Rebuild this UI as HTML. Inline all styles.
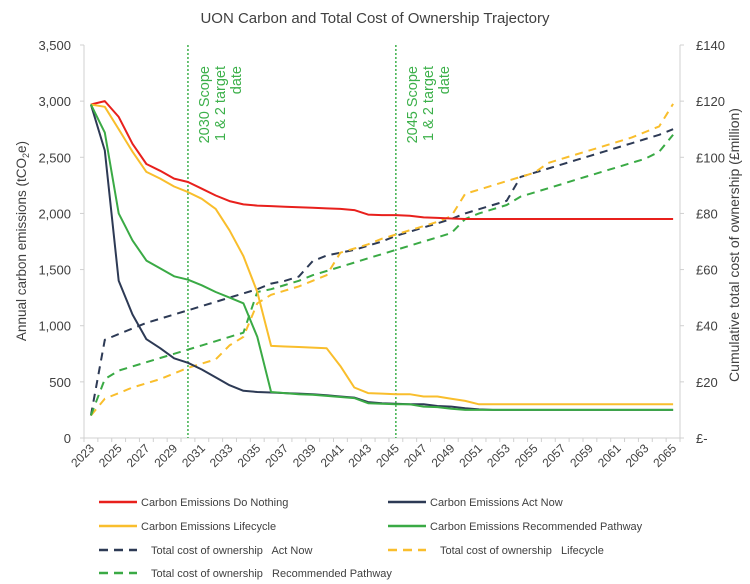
<!DOCTYPE html>
<html><head><meta charset="utf-8"><style>
body{margin:0;background:#fff;}
svg{display:block;font-family:"Liberation Sans",sans-serif;}
</style></head><body>
<svg id="chart" width="750" height="584" viewBox="0 0 750 584">
<text x="375" y="23" text-anchor="middle" font-size="15" fill="#404040">UON Carbon and Total Cost of Ownership Trajectory</text>
<text transform="translate(26,241) rotate(-90)" text-anchor="middle" font-size="13.5" fill="#404040">Annual carbon emissions (tCO<tspan font-size="9" dy="3">2</tspan><tspan dy="-3">e)</tspan></text>
<text transform="translate(739,245) rotate(-90)" text-anchor="middle" font-size="14" fill="#404040">Cumulative total cost of ownership (£million)</text>
<g id="axes"></g>
<g id="marks"></g>
<g id="legend"></g>
</svg>
<script>
const years=[];for(let y=2023;y<=2065;y++)years.push(y);
const leftTicks=[0,500,1000,1500,2000,2500,3000,3500];
const leftTickLabels=["0","500","1,000","1,500","2,000","2,500","3,000","3,500"];
const rightTicks=[0,20,40,60,80,100,120,140];
const rightTickLabels=["£-","£20","£40","£60","£80","£100","£120","£140"];
const doNothing=[2970,3000,2860,2620,2440,2380,2310,2280,2220,2160,2110,2080,2070,2065,2060,2055,2050,2045,2040,2030,1990,1985,1985,1980,1965,1960,1955,1950,1950,1950,1950,1950,1950,1950,1950,1950,1950,1950,1950,1950,1950,1950,1950];
const lifecycle=[2970,2950,2750,2550,2370,2310,2240,2190,2130,2040,1850,1620,1300,820,815,810,805,800,640,450,400,395,390,390,370,370,350,330,300,300,300,300,300,300,300,300,300,300,300,300,300,300,300];
const actNow=[2970,2560,1400,1100,880,800,710,670,610,540,470,420,410,405,400,395,390,380,370,360,320,310,305,300,300,285,280,265,255,250,250,250,250,250,250,250,250,250,250,250,250,250,250];
const recommended=[2970,2720,2000,1760,1580,1510,1440,1410,1360,1300,1250,1200,900,410,400,390,385,375,365,355,310,305,300,300,280,275,260,250,250,250,250,250,250,250,250,250,250,250,250,250,250,250,250];
const costActNow=[8,35,37,39,41,42.5,44,45.5,47,48.5,50,51.5,53,55,56,57.5,63,65,66,67,68.5,70,72,73.5,75,76.5,78,80,81.5,83,84.5,93,94.5,96,97.5,99,100.5,102,103.5,105,106.5,108,110];
const costLifecycle=[8,14,16,18,19.5,21,23,25,26.5,28,33,36,48,51,52.5,54,56,58,66,67.5,69,71,72.5,74,75.5,77,79,87,88.5,90,91.5,93,94.5,98,99.5,101,102.5,104,105.5,107,109,111,119];
const costRecommended=[8,21,24,25.5,27,28.5,30,31.5,33,34.5,36,37.5,52,53,54.5,56,58,59.5,61,62.5,64,65.5,67,68.5,70,71.5,73,78,80,81.5,83,86,87.5,89,90.5,92,93.5,95,96.5,98,99.5,102,108];
const targets=[2030,2045];

const NS="http://www.w3.org/2000/svg";
const X0=84,X1=680,YT=45,YB=438;
const band=(X1-X0)/years.length;
function xs(i){return X0+band*(i+0.5);}
function yL(v){return YB-(v/3500)*(YB-YT);}
function yR(v){return YB-(v/140)*(YB-YT);}
function mk(tag,attrs,parent,text){const e=document.createElementNS(NS,tag);for(const k in attrs)e.setAttribute(k,attrs[k]);if(text!==undefined)e.textContent=text;parent.appendChild(e);return e;}
const axes=document.getElementById('axes'),marks=document.getElementById('marks'),legend=document.getElementById('legend');

let a=mk('line',{x1:X0,y1:YT,x2:X0,y2:YB,stroke:'#d0d0d0','stroke-width':1},axes);

a=mk('line',{x1:X1,y1:YT,x2:X1,y2:YB,stroke:'#d0d0d0','stroke-width':1},axes);

a=mk('line',{x1:X0,y1:YB,x2:X1,y2:YB,stroke:'#d0d0d0','stroke-width':1},axes);

leftTicks.forEach((v,i)=>{
 mk('line',{x1:X0-4,x2:X0,y1:yL(v),y2:yL(v),stroke:'#d0d0d0'},axes);
 const t=mk('text',{x:X0-13,y:yL(v)+5,'text-anchor':'end','font-size':13,fill:'#404040'},axes,leftTickLabels[i]);
 
});
rightTicks.forEach((v,i)=>{
 mk('line',{x1:X1,x2:X1+4,y1:yR(v),y2:yR(v),stroke:'#d0d0d0'},axes);
 const t=mk('text',{x:X1+16,y:yR(v)+5,'text-anchor':'start','font-size':13,fill:'#404040'},axes,rightTickLabels[i]);
 
});
for(let i=0;i<=years.length;i++)mk('line',{x1:X0+band*i,x2:X0+band*i,y1:YB,y2:YB+4,stroke:'#d0d0d0'},axes);
years.forEach((y,i)=>{
 if(i%2)return;
 const x=xs(i)+4,yy=YB+11;
 const t=mk('text',{x:x,y:yy,'text-anchor':'end','font-size':12,fill:'#404040',transform:`rotate(-45 ${x} ${yy})`},axes,String(y));
 
});
targets.forEach(ty=>{
 const i=years.indexOf(ty),x=xs(i);
 const l=mk('line',{x1:x,x2:x,y1:YT,y2:YB,stroke:'#3cb04a','stroke-width':1.5,'stroke-dasharray':'2,2'},marks);
 
 const g=mk('text',{transform:`translate(${x+21},66) rotate(-90)`,'text-anchor':'end','font-size':14.5,fill:'#3cb04a'},marks);
 
 mk('tspan',{x:0,dy:0},g,ty+' Scope');mk('tspan',{x:0,dy:16},g,'1 & 2 target');mk('tspan',{x:0,dy:16},g,'date');
});
function series(data,scale,color,dash,name){
 const pts=data.map((v,i)=>xs(i).toFixed(1)+','+scale(v).toFixed(1)).join(' ');
 const p=mk('polyline',{points:pts,fill:'none',stroke:color,'stroke-width':2,'stroke-linejoin':'round'},marks);
 if(dash)p.setAttribute('stroke-dasharray','8,6');
 
}
const C={red:'#e8201c',dark:'#2d3a55',yellow:'#f9be2c',green:'#3aaa45'};
series(costActNow,yR,C.dark,true,'cost-act-now-line');
series(costLifecycle,yR,C.yellow,true,'cost-lifecycle-line');
series(costRecommended,yR,C.green,true,'cost-recommended-line');
series(doNothing,yL,C.red,false,'emissions-do-nothing-line');
series(lifecycle,yL,C.yellow,false,'emissions-lifecycle-line');
series(actNow,yL,C.dark,false,'emissions-act-now-line');
series(recommended,yL,C.green,false,'emissions-recommended-line');

const leg=[
 [99,502,C.red,false,'Carbon Emissions Do Nothing'],
 [388,502,C.dark,false,'Carbon Emissions Act Now'],
 [99,526,C.yellow,false,'Carbon Emissions Lifecycle'],
 [388,526,C.green,false,'Carbon Emissions Recommended Pathway'],
 [99,550,C.dark,true,'Total cost of ownership   Act Now'],
 [388,550,C.yellow,true,'Total cost of ownership   Lifecycle'],
 [99,573,C.green,true,'Total cost of ownership   Recommended Pathway']];
leg.forEach(([x,y,c,d,t])=>{
 const g=mk('g',{},legend);
 
 const l=mk('line',{x1:x,x2:x+38,y1:y,y2:y,stroke:c,'stroke-width':2.5},g);
 if(d)l.setAttribute('stroke-dasharray','9,6');
 mk('text',{x:x+(d?52:42),y:y+4,'font-size':11,fill:'#404040','xml:space':'preserve'},g,t).style.whiteSpace='pre';
});
</script>
</body></html>
